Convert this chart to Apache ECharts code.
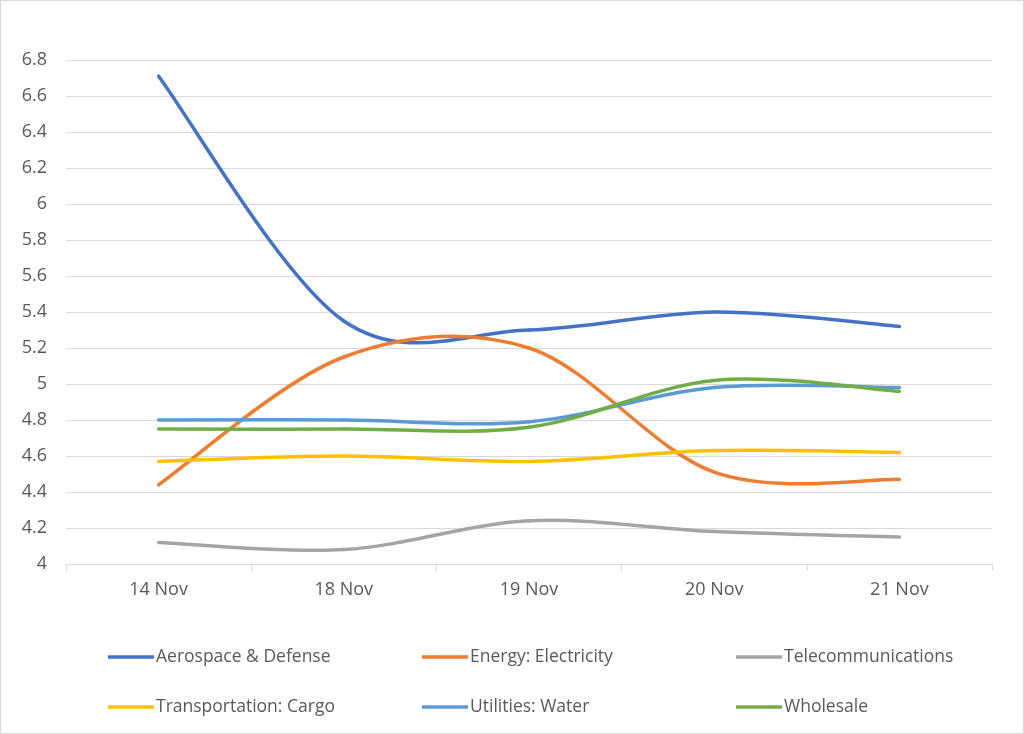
<!DOCTYPE html>
<html>
<head>
<meta charset="utf-8">
<script src="https://cdn.jsdelivr.net/npm/echarts@6/dist/echarts.min.js"></script>
<style>
html,body{margin:0;padding:0;background:#fff;}
#c{width:1022px;height:732px;border:1px solid #d9d9d9;}
</style>
</head>
<body>
<div id="c"></div>
<script>
const categories = ['14 Nov', '18 Nov', '19 Nov', '20 Nov', '21 Nov'];
const aerospace = [6.71, 5.35, 5.30, 5.40, 5.32];
const energy = [4.44, 5.15, 5.20, 4.51, 4.47];
const telecom = [4.12, 4.08, 4.24, 4.18, 4.15];
const transport = [4.57, 4.60, 4.57, 4.63, 4.62];
const utilities = [4.80, 4.80, 4.79, 4.98, 4.98];
const wholesale = [4.75, 4.75, 4.76, 5.02, 4.96];
const yTicks = { min: 4, max: 6.8, interval: 0.2 };

const seriesDefs = [
  { name: 'Aerospace & Defense', data: aerospace, color: '#4472C4' },
  { name: 'Energy: Electricity', data: energy, color: '#ED7D31' },
  { name: 'Telecommunications', data: telecom, color: '#A5A5A5' },
  { name: 'Transportation: Cargo', data: transport, color: '#FFC000' },
  { name: 'Utilities: Water', data: utilities, color: '#5B9BD5' },
  { name: 'Wholesale', data: wholesale, color: '#70AD47' }
];

const font = 'Open Sans';
const legendPos = [
  { left: 107, top: 647 }, { left: 421, top: 647 }, { left: 735, top: 647 },
  { left: 107, top: 697 }, { left: 421, top: 697 }, { left: 735, top: 697 }
];

// Excel-like smoothed line: cubic Bezier segments through the data points
function makeRenderItem(values, color) {
  const T = 1 / 6;
  return function (params, api) {
    const i = params.dataIndex;
    const n = values.length;
    if (i >= n - 1) return null;
    const p = values.map((v, k) => api.coord([k, v]));
    const p0 = p[Math.max(i - 1, 0)], p1 = p[i], p2 = p[i + 1], p3 = p[Math.min(i + 2, n - 1)];
    return {
      type: 'bezierCurve',
      shape: {
        x1: p1[0], y1: p1[1],
        x2: p2[0], y2: p2[1],
        cpx1: p1[0] + (p2[0] - p0[0]) * T, cpy1: p1[1] + (p2[1] - p0[1]) * T,
        cpx2: p2[0] - (p3[0] - p1[0]) * T, cpy2: p2[1] - (p3[1] - p1[1]) * T
      },
      style: { stroke: color, lineWidth: 3.5, fill: null, lineCap: 'round', lineJoin: 'round' }
    };
  };
}

const chart = echarts.init(document.getElementById('c'));
chart.setOption({
  backgroundColor: '#fff',
  animation: false,
  grid: { left: 65, right: 31, top: 59, bottom: 169 },
  xAxis: {
    type: 'category',
    data: categories,
    boundaryGap: true,
    axisLine: { lineStyle: { color: '#d9d9d9', width: 1 } },
    axisTick: { show: true, length: 7, lineStyle: { color: '#d9d9d9' } },
    axisLabel: { color: '#595959', fontSize: 18, fontFamily: font, margin: 17 }
  },
  yAxis: {
    type: 'value',
    min: yTicks.min, max: yTicks.max, interval: yTicks.interval,
    axisLine: { show: false },
    axisTick: { show: false },
    splitLine: { lineStyle: { color: '#d9d9d9', width: 1 } },
    axisLabel: { color: '#595959', fontSize: 18, fontFamily: font, margin: 19,
      formatter: v => String(Math.round(v * 10) / 10) }
  },
  legend: seriesDefs.map((s, i) => ({
    data: [s.name],
    left: legendPos[i].left,
    top: legendPos[i].top,
    padding: 0,
    icon: 'rect',
    itemWidth: 46,
    itemHeight: 3.5,
    itemStyle: { color: s.color },
    textStyle: { color: '#595959', fontSize: 17.5, fontFamily: font, padding: [0, 0, 0, -3] }
  })),
  series: seriesDefs.map(s => ({
    name: s.name,
    type: 'custom',
    data: s.data.map((v, k) => [k, v]),
    encode: { x: 0, y: 1 },
    itemStyle: { color: s.color },
    renderItem: makeRenderItem(s.data, s.color)
  }))
});
</script>
</body>
</html>
